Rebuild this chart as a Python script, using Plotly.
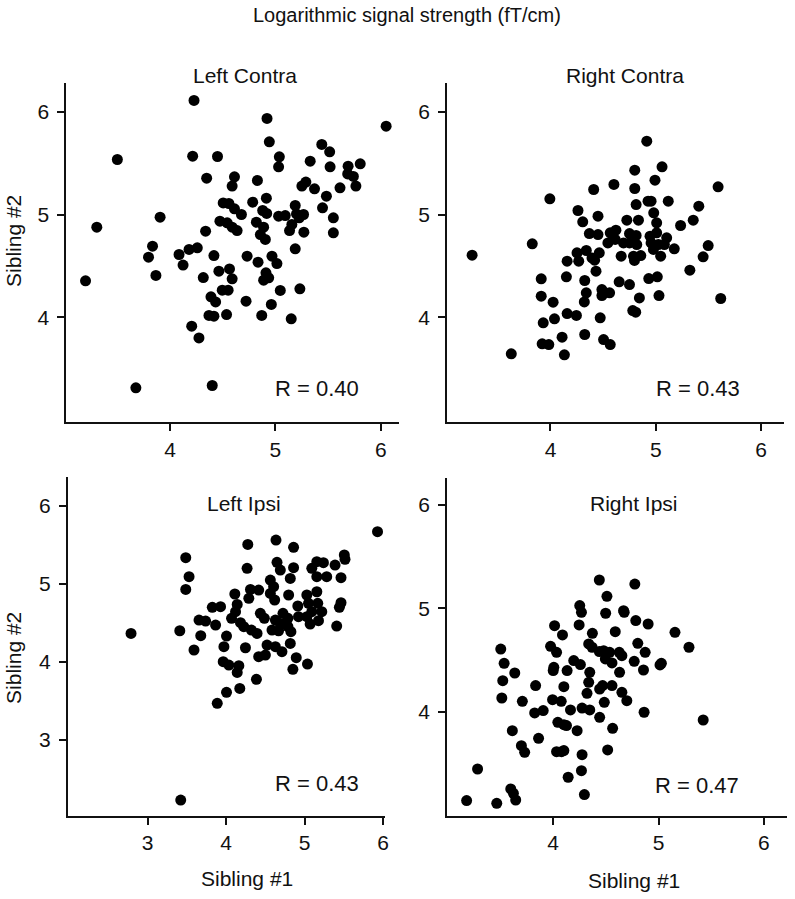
import plotly.graph_objects as go

# ---------------- data ----------------
left_contra_x = [4.227, 4.92, 6.051, 4.942, 5.44, 5.515, 3.499, 4.214, 4.45, 5.037, 5.03, 5.33, 5.519, 5.69, 5.805,
                 5.686, 5.74, 5.764, 5.613, 4.347, 4.611, 4.589, 4.829, 5.289, 5.251, 5.371, 5.484, 4.504, 4.558,
                 4.611, 4.677, 4.784, 4.914, 4.879, 4.917, 5.188, 5.447, 5.03, 5.093, 5.2, 5.267, 5.226, 5.55, 5.55,
                 3.905, 3.304, 4.473, 4.542, 4.589, 4.636, 4.819, 4.888, 4.857, 4.904, 5.156, 5.134, 5.27, 4.337,
                 5.188, 3.833, 3.795, 3.865, 4.085, 4.18, 4.258, 4.123, 4.416, 4.731, 4.835, 4.967, 5.014, 4.315,
                 4.463, 4.564, 4.589, 4.91, 4.888, 4.936, 4.495, 4.551, 5.046, 5.232, 4.388, 4.432, 4.721, 4.961,
                 4.369, 4.416, 4.536, 4.87, 5.15, 4.205, 4.274, 3.675, 4.4, 3.197]
left_contra_y = [6.109, 5.934, 5.859, 5.707, 5.681, 5.61, 5.535, 5.567, 5.564, 5.561, 5.464, 5.519, 5.464, 5.47, 5.493,
                 5.395, 5.37, 5.276, 5.259, 5.353, 5.366, 5.276, 5.331, 5.315, 5.276, 5.25, 5.178, 5.113, 5.107,
                 5.055, 5.0, 5.12, 5.159, 5.039, 5.01, 5.088, 5.065, 4.984, 4.99, 5.006, 5.0, 4.968, 4.968, 4.822,
                 4.974, 4.877, 4.935, 4.919, 4.877, 4.844, 4.925, 4.877, 4.805, 4.757, 4.903, 4.844, 4.828, 4.838,
                 4.666, 4.692, 4.585, 4.407, 4.611, 4.66, 4.676, 4.508, 4.601, 4.595, 4.536, 4.595, 4.523, 4.387,
                 4.449, 4.471, 4.374, 4.433, 4.361, 4.384, 4.264, 4.264, 4.261, 4.277, 4.199, 4.15, 4.157, 4.125,
                 4.018, 4.011, 4.027, 4.018, 3.985, 3.914, 3.8, 3.314, 3.337, 4.355]

right_contra_x = [4.914, 4.8, 5.059, 4.992, 5.591, 4.41, 4.602, 4.8, 3.994, 4.813, 4.926, 4.955, 5.118, 5.408, 4.261,
                  4.306, 4.451, 4.725, 4.835, 4.98, 5.008, 5.235, 5.355, 4.369, 4.451, 4.567, 4.621, 4.75, 4.813,
                  4.945, 5.008, 5.103, 3.827, 4.545, 4.614, 4.693, 4.75, 4.819, 4.955, 5.024, 5.081, 5.175, 5.497,
                  3.256, 4.252, 4.34, 4.394, 4.463, 4.671, 4.788, 4.857, 4.977, 5.046, 5.449, 4.158, 4.268, 4.419,
                  4.797, 3.912, 4.151, 4.325, 4.432, 4.652, 4.75, 4.933, 5.014, 5.323, 3.912, 4.025, 4.34, 4.321,
                  4.488, 4.488, 4.561, 4.844, 5.03, 5.616, 4.158, 4.246, 4.038, 3.931, 4.472, 4.781, 4.809, 4.11,
                  4.325, 3.921, 3.984, 4.504, 4.567, 3.628, 4.132]
right_contra_y = [5.713, 5.431, 5.464, 5.334, 5.269, 5.243, 5.292, 5.253, 5.152, 5.097, 5.13, 5.13, 5.13, 5.081, 5.039,
                  4.929, 4.984, 4.945, 4.945, 5.016, 4.919, 4.893, 4.945, 4.815, 4.805, 4.822, 4.848, 4.815, 4.796,
                  4.789, 4.822, 4.773, 4.715, 4.724, 4.757, 4.724, 4.724, 4.708, 4.724, 4.708, 4.708, 4.666, 4.698,
                  4.604, 4.627, 4.65, 4.578, 4.627, 4.595, 4.595, 4.601, 4.66, 4.595, 4.588, 4.546, 4.546, 4.556,
                  4.553, 4.374, 4.394, 4.358, 4.449, 4.345, 4.319, 4.377, 4.394, 4.458, 4.206, 4.147, 4.238, 4.15,
                  4.27, 4.212, 4.238, 4.189, 4.212, 4.183, 4.037, 4.018, 3.985, 3.946, 3.995, 4.066, 4.05, 3.807,
                  3.833, 3.742, 3.735, 3.784, 3.735, 3.645, 3.635]

left_ipsi_x = [5.928, 4.276, 4.635, 4.859, 3.486, 3.528, 3.486, 4.267, 4.648, 4.69, 4.859, 4.817, 4.563, 4.605, 5.091,
               5.155, 5.239, 5.155, 5.281, 5.387, 5.505, 5.514, 5.463, 4.111, 4.31, 4.415, 4.289, 4.563, 4.618, 4.796,
               5.028, 5.155, 4.913, 5.049, 5.167, 5.442, 5.463, 5.408, 3.824, 3.929, 4.141, 4.12, 3.655, 3.739, 3.866,
               4.069, 4.183, 4.225, 4.436, 4.487, 4.627, 4.724, 4.787, 4.69, 4.922, 5.028, 5.091, 5.218, 5.07, 5.176,
               4.584, 4.668, 4.787, 4.322, 4.394, 4.825, 2.789, 3.41, 3.677, 3.591, 4.005, 3.972, 4.246, 4.521, 4.627,
               4.711, 4.817, 4.415, 4.5, 3.963, 4.035, 4.162, 4.141, 4.893, 5.036, 4.85, 4.386, 4.174, 4.005, 3.887,
               3.422]
left_ipsi_y = [5.667, 5.504, 5.56, 5.466, 5.333, 5.09, 4.927, 5.197, 5.274, 5.175, 5.205, 5.068, 5.047, 4.962, 5.197,
               5.282, 5.269, 5.09, 5.09, 5.239, 5.368, 5.312, 5.077, 4.868, 4.927, 4.919, 4.812, 4.876, 4.791, 4.855,
               4.855, 4.897, 4.714, 4.748, 4.748, 4.697, 4.756, 4.457, 4.697, 4.705, 4.735, 4.641, 4.534, 4.521, 4.47,
               4.556, 4.5, 4.449, 4.62, 4.556, 4.534, 4.62, 4.556, 4.491, 4.577, 4.577, 4.641, 4.641, 4.483, 4.526,
               4.406, 4.397, 4.449, 4.406, 4.363, 4.385, 4.363, 4.397, 4.333, 4.15, 4.329, 4.192, 4.179, 4.214, 4.192,
               4.128, 4.235, 4.064, 4.085, 4.0, 3.957, 3.949, 3.863, 4.051, 3.97, 3.902, 3.774, 3.658, 3.607, 3.466,
               2.226]

right_ipsi_x = [4.438, 4.775, 4.51, 4.252, 4.268, 4.498, 4.668, 4.674, 4.784, 4.901, 4.013, 4.088, 4.246, 4.372, 4.589,
                5.156, 5.289, 3.502, 3.534, 3.521, 3.512, 3.635, 3.975, 4.032, 4.337, 4.369, 4.438, 4.479, 4.536,
                4.627, 4.652, 4.803, 4.873, 4.769, 4.857, 5.014, 5.027, 4.006, 4.0, 4.195, 4.132, 4.258, 4.347, 4.495,
                4.558, 4.63, 4.337, 4.441, 4.469, 4.558, 4.321, 4.652, 4.699, 4.101, 3.833, 3.707, 3.824, 3.905,
                3.994, 4.076, 4.164, 4.274, 4.347, 4.485, 4.441, 4.863, 5.424, 3.612, 3.861, 4.044, 4.101, 4.126,
                4.227, 4.564, 3.698, 3.729, 4.032, 4.079, 4.101, 4.274, 4.517, 3.282, 4.268, 4.142, 3.178, 3.464,
                3.597, 3.622, 3.644, 4.296]
right_ipsi_y = [5.274, 5.235, 5.116, 5.026, 4.961, 4.952, 4.977, 4.961, 4.881, 4.848, 4.832, 4.742, 4.839, 4.758, 4.774,
                4.768, 4.623, 4.606, 4.468, 4.3, 4.132, 4.374, 4.632, 4.574, 4.655, 4.623, 4.581, 4.59, 4.574, 4.574,
                4.542, 4.661, 4.574, 4.487, 4.403, 4.452, 4.468, 4.429, 4.397, 4.494, 4.397, 4.455, 4.381, 4.51,
                4.471, 4.381, 4.284, 4.219, 4.252, 4.252, 4.177, 4.187, 4.106, 4.242, 4.252, 4.1, 3.987, 4.01, 4.116,
                4.1, 4.016, 4.035, 4.016, 4.09, 3.945, 3.994, 3.919, 3.816, 3.742, 3.897, 3.874, 3.865, 3.816, 3.839,
                3.671, 3.606, 3.613, 3.613, 3.623, 3.584, 3.629, 3.445, 3.429, 3.365, 3.139, 3.113, 3.252, 3.21,
                3.145, 3.197]

panel_titles = ["Left Contra", "Right Contra", "Left Ipsi", "Right Ipsi"]
r_labels = ["R = 0.40", "R = 0.43", "R = 0.43", "R = 0.47"]
main_title = "Logarithmic signal strength (fT/cm)"
x_title = "Sibling #1"
y_title = "Sibling #2"

tick_top = [4, 5, 6]
tick_bl = [3, 4, 5, 6]

# ---------------- layout helpers ----------------
W, H = 795, 899
FONT = "Arial, Liberation Sans, Helvetica, sans-serif"
INK = "#111111"


def px(x):
    return x / W


def py(y):
    return 1 - y / H


panels = [
    (left_contra_x, left_contra_y, (66.7, 401), (83.3, 422.3), [3.015, 6.173], [2.979, 6.276], tick_top, tick_top),
    (right_contra_x, right_contra_y, (449.3, 788), (83.3, 422.3), [3.018, 6.217], [2.979, 6.276], tick_top, tick_top),
    (left_ipsi_x, left_ipsi_y, (68.3, 386.7), (477.3, 815.7), [1.986, 6.02], [2.026, 6.364], tick_bl, tick_bl),
    (right_ipsi_x, right_ipsi_y, (449.3, 790.7), (478.3, 815.7), [2.992, 6.217], [2.993, 6.258], tick_top, tick_top),
]

fig = go.Figure()
layout = {}
for i, (xs, ys, xd, yd, xr, yr, xt, yt) in enumerate(panels):
    n = "" if i == 0 else str(i + 1)
    fig.add_trace(go.Scatter(
        x=xs, y=ys, mode="markers", xaxis="x" + n, yaxis="y" + n,
        marker=dict(size=11, color="black", line=dict(width=0)),
        cliponaxis=False, showlegend=False, hoverinfo="x+y"))
    common = dict(showgrid=False, zeroline=False, showline=True, linecolor=INK, linewidth=2,
                  ticks="outside", ticklen=7, tickwidth=2, tickcolor=INK,
                  tickfont=dict(family=FONT, size=21, color=INK), mirror=False, fixedrange=True)
    layout["xaxis" + n] = dict(common, domain=[px(xd[0]), px(xd[1])], range=xr, tickvals=xt,
                               anchor="y" + n, ticklabelstandoff=0)
    layout["yaxis" + n] = dict(common, domain=[py(yd[1]), py(yd[0])], range=yr, tickvals=yt,
                               anchor="x" + n, ticklabelstandoff=4)

fig.update_layout(**layout)

annotations = []


def ann(text, x, y, size, angle=0):
    annotations.append(dict(text=text, x=px(x), y=py(y), xref="paper", yref="paper",
                            xanchor="center", yanchor="middle", showarrow=False, textangle=angle,
                            font=dict(family=FONT, size=size, color=INK)))


ann(main_title, 409, 15, 20)
title_pos = [(246, 75), (628, 75), (245, 503), (637, 503)]
r_pos = [(319, 388), (702, 388), (319, 783), (701, 785)]
for t, (x, y) in zip(panel_titles, title_pos):
    ann(t, x, y, 21)
for t, (x, y) in zip(r_labels, r_pos):
    ann(t, x, y, 22)
ann(x_title, 248, 878, 21)
ann(x_title, 637, 880, 21)
ann(y_title, 13, 241, 21, -90)
ann(y_title, 13, 658, 21, -90)

fig.update_layout(
    annotations=annotations,
    width=W, height=H,
    margin=dict(l=0, r=0, t=0, b=0),
    paper_bgcolor="white", plot_bgcolor="white",
    showlegend=False,
)

fig.write_html("out.html", config={"displayModeBar": False},
               post_script="document.body.style.margin='0';document.body.style.overflow='hidden';")
